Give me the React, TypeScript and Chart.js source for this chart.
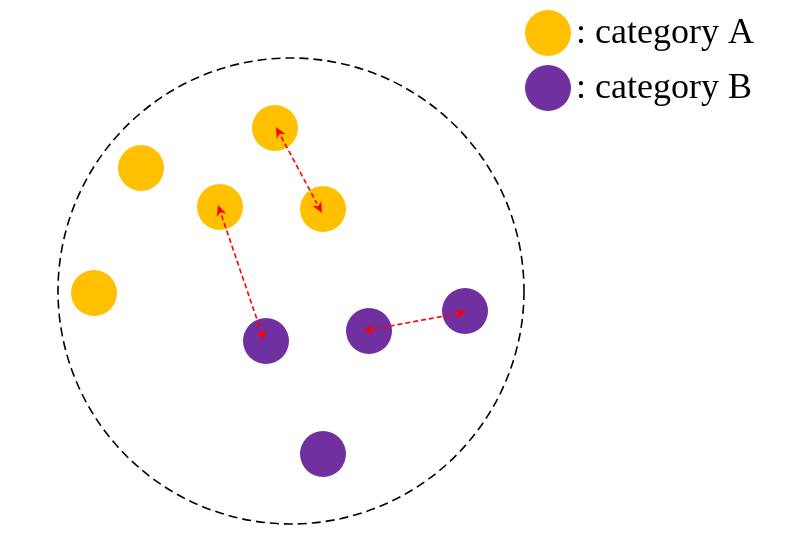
import { useEffect, useRef } from 'react';
import { Chart, registerables } from 'chart.js';

Chart.register(...registerables);

const categoryA = [
	{ x: 275, y: 128 },
	{ x: 141, y: 168 },
	{ x: 220, y: 207 },
	{ x: 323, y: 209 },
	{ x: 94, y: 293 }
];
const categoryB = [
	{ x: 266, y: 341 },
	{ x: 369, y: 331 },
	{ x: 465, y: 311 },
	{ x: 323, y: 454 }
];
const boundary = { x: 291, y: 291, r: 233 };
const arrows = [
	[{ x: 276, y: 127 }, { x: 322, y: 213 }],
	[{ x: 218, y: 205 }, { x: 264, y: 340 }],
	[{ x: 363, y: 331 }, { x: 466, y: 312 }]
];
const legendLabels = [': category A', ': category B'];
const colorA = '#FFC000';
const colorB = '#7030A0';

const drawPlugin = {
	id: 'diagram',
	beforeDatasetsDraw(chart: any) {
		const { ctx, scales } = chart;
		const cx = scales.x.getPixelForValue(boundary.x);
		const cy = scales.y.getPixelForValue(boundary.y);
		const rx = Math.abs(scales.x.getPixelForValue(boundary.x + boundary.r) - cx);
		const ry = Math.abs(scales.y.getPixelForValue(boundary.y + boundary.r) - cy);
		ctx.save();
		ctx.setLineDash([9, 5]);
		ctx.lineWidth = 1.6;
		ctx.strokeStyle = '#000';
		ctx.beginPath();
		ctx.ellipse(cx, cy, rx, ry, 0, 0, Math.PI * 2);
		ctx.stroke();
		ctx.restore();
	},
	afterDatasetsDraw(chart: any) {
		const { ctx, scales } = chart;
		ctx.save();
		arrows.forEach(([a, b]) => {
			const x1 = scales.x.getPixelForValue(a.x);
			const y1 = scales.y.getPixelForValue(a.y);
			const x2 = scales.x.getPixelForValue(b.x);
			const y2 = scales.y.getPixelForValue(b.y);
			const ang = Math.atan2(y2 - y1, x2 - x1);
			const len = 11;
			const w = 5;
			ctx.strokeStyle = '#FF0000';
			ctx.fillStyle = '#FF0000';
			ctx.lineWidth = 1.6;
			ctx.setLineDash([5, 3]);
			ctx.beginPath();
			ctx.moveTo(x1 + Math.cos(ang) * len, y1 + Math.sin(ang) * len);
			ctx.lineTo(x2 - Math.cos(ang) * len, y2 - Math.sin(ang) * len);
			ctx.stroke();
			ctx.setLineDash([]);
			const head = (px: number, py: number, a2: number) => {
				ctx.beginPath();
				ctx.moveTo(px, py);
				ctx.lineTo(px - Math.cos(a2) * len - Math.sin(a2) * w, py - Math.sin(a2) * len + Math.cos(a2) * w);
				ctx.lineTo(px - Math.cos(a2) * len * 0.7, py - Math.sin(a2) * len * 0.7);
				ctx.lineTo(px - Math.cos(a2) * len + Math.sin(a2) * w, py - Math.sin(a2) * len - Math.cos(a2) * w);
				ctx.closePath();
				ctx.fill();
			};
			head(x2, y2, ang);
			head(x1, y1, ang + Math.PI);
		});
		// legend
		[colorA, colorB].forEach((c, i) => {
			const ly = 33 + i * 55;
			ctx.fillStyle = c;
			ctx.beginPath();
			ctx.arc(548, ly, 23, 0, Math.PI * 2);
			ctx.fill();
			ctx.fillStyle = '#000';
			ctx.font = '36px "Liberation Serif", serif';
			ctx.textBaseline = 'middle';
			ctx.fillText(legendLabels[i], 576, ly + 1);
		});
		ctx.restore();
	}
};

export default function App() {
	const canvasRef: any = useRef();

	useEffect(() => {
		const chart = new Chart(canvasRef.current.getContext('2d'), {
			type: 'scatter',
			data: {
				datasets: [
					{ data: categoryA, backgroundColor: colorA, borderWidth: 0, pointRadius: 23, pointHoverRadius: 23, clip: false },
					{ data: categoryB, backgroundColor: colorB, borderWidth: 0, pointRadius: 23, pointHoverRadius: 23, clip: false }
				]
			},
			options: {
				animation: false,
				responsive: false,
				layout: { padding: 0, autoPadding: false },
				scales: {
					x: { type: 'linear', min: 0, max: 795, display: false },
					y: { type: 'linear', min: 0, max: 552, reverse: true, display: false }
				},
				plugins: { legend: { display: false }, tooltip: { enabled: false } },
				events: []
			},
			plugins: [drawPlugin]
		});
		return () => {
			chart.destroy();
		};
	}, []);

	return (
		<div style={{ position: 'fixed', left: 0, top: 0, width: 795, height: 552, background: '#fff' }}>
			<canvas ref={canvasRef} width={795} height={552} />
		</div>
	);
}
